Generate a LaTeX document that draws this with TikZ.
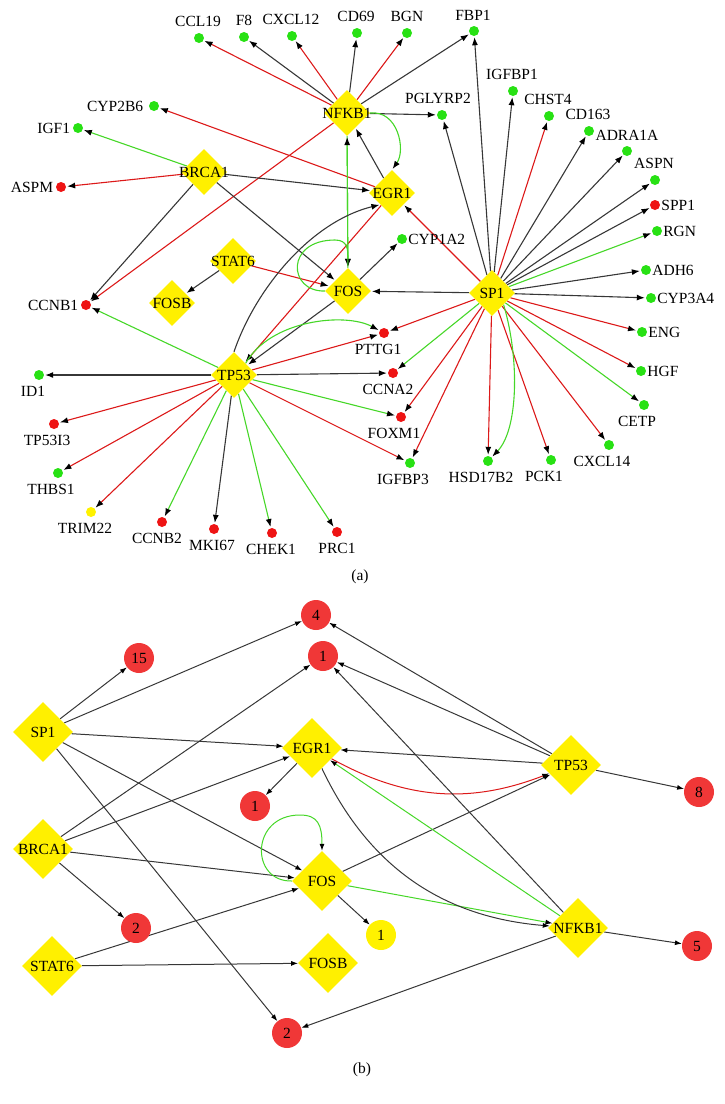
\documentclass[tikz,border=0pt]{standalone}
\usepackage{fontspec}
\setmainfont{Liberation Serif}
\usetikzlibrary{arrows.meta,shapes.geometric,positioning,backgrounds}

\definecolor{ygold}{RGB}{255,240,0}
\definecolor{dgreen}{RGB}{40,225,20}
\definecolor{dred}{RGB}{238,20,20}
\definecolor{cred}{RGB}{240,55,55}
\definecolor{eblack}{RGB}{55,55,55}
\definecolor{ered}{RGB}{220,25,25}
\definecolor{egreen}{RGB}{70,215,40}

\tikzset{
 lab/.style={font=\fontsize{15.5}{18}\selectfont, inner sep=0.5pt},
 dia/.style={diamond, fill=ygold, inner sep=0pt, minimum width=46pt, minimum height=46pt},
 diab/.style={dia, minimum width=60pt, minimum height=60pt},
 gd/.style={circle, fill=dgreen, inner sep=0pt, minimum size=10pt},
 rd/.style={gd, fill=dred},
 yd/.style={gd, fill=yellow},
 num/.style={circle, fill=cred, inner sep=0pt, minimum size=30pt, font=\fontsize{15.5}{18}\selectfont},
 numy/.style={num, fill=yellow},
 ea/.style={draw=eblack, line width=1.1pt, -{Latex[length=8pt,width=6pt,color=black]}, shorten >=1pt},
 ra/.style={ea, draw=ered},
 ga/.style={ea, draw=egreen},
 eb/.style={draw=eblack, line width=1pt, -{Latex[length=7pt,width=5pt,color=black]}},
 rb/.style={eb, draw=ered},
 gb/.style={eb, draw=egreen},
 ab/.style={lab, above=5pt of #1},
 bl/.style={lab, below=5pt of #1, xshift=-7pt},
 rt/.style={lab, right=0.5pt of #1},
 lt/.style={lab, left=2pt of #1},
}

\begin{document}
\begin{tikzpicture}[x=1pt,y=-1pt]
\useasboundingbox (0,0) rectangle (724,1104);

% ---------------- (a) ----------------
\node[dia, label={[lab]center:NFKB1}] (nfkb) at (347,113) {};
\node[dia, label={[lab]center:EGR1}] (egr) at (392,193) {};
\node[dia, label={[lab]center:BRCA1}] (brca) at (204,172) {};
\node[dia, label={[lab]center:STAT6}] (stat6) at (233,261) {};
\node[dia, label={[lab]center:FOS}] (fos) at (348,291) {};
\node[dia, label={[lab]center:FOSB}] (fosb) at (172,303) {};
\node[dia, label={[lab]center:TP53}] (tp53) at (234,375) {};
\node[dia, label={[lab]center:SP1}] (sp1) at (492,293) {};

\node[gd] (ccl19) at (199,38) {};   \node[ab=ccl19, xshift=-1pt] (ccl19l) {CCL19};
\node[gd] (f8) at (244,37) {};      \node[ab=f8] (f8l) {F8};
\node[gd] (cxcl12) at (292,36) {};  \node[ab=cxcl12, xshift=-1pt] (cxcl12l) {CXCL12};
\node[gd] (cd69) at (357,33) {};    \node[ab=cd69, xshift=-1pt] (cd69l) {CD69};
\node[gd] (bgn) at (407,33) {};     \node[ab=bgn] (bgnl) {BGN};
\node[gd] (fbp1) at (474,31) {};    \node[ab=fbp1, xshift=-1pt] (fbp1l) {FBP1};
\node[gd] (pglyrp2) at (442,115) {};\node[ab=pglyrp2, xshift=-4pt] (pglyrp2l) {PGLYRP2};
\node[gd] (igfbp1) at (513,91) {};  \node[ab=igfbp1, xshift=-1pt] (igfbp1l) {IGFBP1};
\node[gd] (chst4) at (549,116) {};  \node[ab=chst4, xshift=-1pt] (chst4l) {CHST4};
\node[gd] (cd163) at (589,131) {};  \node[ab=cd163, xshift=-1pt] (cd163l) {CD163};
\node[gd] (adra1a) at (627,151) {}; \node[ab=adra1a] (adra1al) {ADRA1A};
\node[gd] (aspn) at (655,180) {};   \node[ab=aspn, xshift=-1pt] (aspnl) {ASPN};
\node[rd] (spp1) at (655,205) {};   \node[rt=spp1] (spp1l) {SPP1};
\node[gd] (rgn) at (657,231) {};    \node[rt=rgn] (rgnl) {RGN};
\node[gd] (adh6) at (646,270) {};   \node[rt=adh6] (adh6l) {ADH6};
\node[gd] (cyp3a4) at (651,298) {}; \node[rt=cyp3a4] (cyp3a4l) {CYP3A4};
\node[gd] (eng) at (642,332) {};    \node[rt=eng] (engl) {ENG};
\node[gd] (hgf) at (641,371) {};    \node[rt=hgf] (hgfl) {HGF};
\node[gd] (cetp) at (644,405) {};   \node[bl=cetp] (cetpl) {CETP};
\node[gd] (cxcl14) at (609,445) {}; \node[bl=cxcl14] (cxcl14l) {CXCL14};
\node[gd] (pck1) at (551,460) {};   \node[bl=pck1] (pck1l) {PCK1};
\node[gd] (hsd) at (488,461) {};    \node[bl=hsd] (hsdl) {HSD17B2};
\node[gd] (igfbp3) at (410,463) {}; \node[bl=igfbp3] (igfbp3l) {IGFBP3};
\node[rd] (foxm1) at (401,417) {};  \node[bl=foxm1] (foxm1l) {FOXM1};
\node[rd] (ccna2) at (393,373) {};  \node[bl=ccna2, xshift=2pt] (ccna2l) {CCNA2};
\node[rd] (pttg1) at (384,333) {};  \node[bl=pttg1, xshift=1pt] (pttg1l) {PTTG1};
\node[gd] (cyp1a2) at (402,239) {}; \node[rt=cyp1a2] (cyp1a2l) {CYP1A2};
\node[gd] (cyp2b6) at (154,106) {}; \node[lt=cyp2b6, xshift=-3pt] (cyp2b6l) {CYP2B6};
\node[gd] (igf1) at (78,128) {};    \node[lt=igf1] (igf1l) {IGF1};
\node[rd] (aspm) at (61,187) {};    \node[lt=aspm] (aspml) {ASPM};
\node[rd] (ccnb1) at (86,305) {};   \node[lt=ccnb1] (ccnb1l) {CCNB1};
\node[gd] (id1) at (39,375) {};     \node[bl=id1, xshift=1pt] (id1l) {ID1};
\node[rd] (tp53i3) at (54,424) {};  \node[bl=tp53i3] (tp53i3l) {TP53I3};
\node[gd] (thbs1) at (58,473) {};   \node[bl=thbs1] (thbs1l) {THBS1};
\node[yd] (trim22) at (91,512) {};  \node[bl=trim22, xshift=1pt] (trim22l) {TRIM22};
\node[rd] (ccnb2) at (162,522) {};  \node[bl=ccnb2, xshift=2pt] (ccnb2l) {CCNB2};
\node[rd] (mki67) at (214,529) {};  \node[bl=mki67, xshift=5pt] (mki67l) {MKI67};
\node[rd] (chek1) at (272,533) {};  \node[bl=chek1, xshift=6pt] (chek1l) {CHEK1};
\node[rd] (prc1) at (337,532) {};   \node[bl=prc1, xshift=7pt] (prc1l) {PRC1};

\node[lab] (capa) at (360,577) {(a)};

\begin{scope}[on background layer]
% NFKB1
\draw[ra] (nfkb) -- (ccl19);
\draw[ea] (nfkb) -- (f8);
\draw[ra] (nfkb) -- (cxcl12);
\draw[ea] (nfkb) -- (cd69);
\draw[ra] (nfkb) -- (bgn);
\draw[ea] (nfkb) -- (fbp1);
\draw[ea] (nfkb) -- (pglyrp2);
\draw[ga] (nfkb.east) .. controls (398,110) and (406,150) .. (egr.north);
\draw[ra] (nfkb) -- (ccnb1);
\draw[ga] (nfkb) -- (fos);
% EGR1
\draw[ra] (egr) -- (cyp2b6);
\draw[ea] (egr) -- (nfkb);
\draw[ra] (egr) -- (tp53);
% BRCA1
\draw[ga] (brca) -- (igf1);
\draw[ra] (brca) -- (aspm);
\draw[ea] (brca) -- (egr);
\draw[ea] (brca) -- (fos);
\draw[ea] (brca) -- (ccnb1);
% STAT6
\draw[ea] (stat6) -- (fosb);
\draw[ra] (stat6) -- (fos);
% FOS
\draw[ga] (fos.west) .. controls (288,292) and (285,240) .. (335,240) .. controls (348,240) and (348,250) .. (fos.north);
\draw[ea] (fos) -- (cyp1a2);
\draw[ga] (fos) -- (nfkb);
\draw[ea] (fos) -- (tp53);
% TP53
\draw[ea] (tp53.north) .. controls (255,290) and (310,222) .. (egr.south west);
\draw[ga] (tp53.north east) .. controls (270,320) and (345,312) .. (pttg1);
\draw[ra] (tp53) -- (pttg1);
\draw[ea] (tp53) -- (ccna2);
\draw[ga] (tp53) -- (foxm1);
\draw[ra] (tp53) -- (igfbp3);
\draw[ga] (tp53) -- (ccnb1);
\draw[ea] (tp53) -- (id1);
\draw[ra] (tp53) -- (tp53i3);
\draw[ra] (tp53) -- (thbs1);
\draw[ra] (tp53) -- (trim22);
\draw[ga] (tp53) -- (ccnb2);
\draw[ea] (tp53) -- (mki67);
\draw[ga] (tp53) -- (chek1);
\draw[ga] (tp53) -- (prc1);
% SP1
\draw[ea] (sp1) -- (fos);
\draw[ra] (sp1) -- (egr);
\draw[ea] (sp1) -- (pglyrp2);
\draw[ea] (sp1) -- (fbp1);
\draw[ea] (sp1) -- (igfbp1);
\draw[ra] (sp1) -- (chst4);
\draw[ea] (sp1) -- (cd163);
\draw[ea] (sp1) -- (adra1a);
\draw[ea] (sp1) -- (aspn);
\draw[ea] (sp1) -- (spp1);
\draw[ga] (sp1) -- (rgn);
\draw[ea] (sp1) -- (adh6);
\draw[ea] (sp1) -- (cyp3a4);
\draw[ra] (sp1) -- (eng);
\draw[ra] (sp1) -- (hgf);
\draw[ga] (sp1) -- (cetp);
\draw[ra] (sp1) -- (cxcl14);
\draw[ra] (sp1) -- (pck1);
\draw[ra] (sp1) -- (hsd);
\draw[ga] (sp1.south east) .. controls (520,360) and (518,430) .. (hsd);
\draw[ra] (sp1) -- (igfbp3);
\draw[ra] (sp1) -- (foxm1);
\draw[ga] (sp1) -- (ccna2);
\draw[ra] (sp1) -- (pttg1);
\end{scope}

% ---------------- (b) ----------------
\node[diab, label={[lab]center:SP1}] (bsp1) at (43,732) {};
\node[diab, label={[lab]center:BRCA1}] (bbrca) at (43,849) {};
\node[diab, label={[lab]center:STAT6}] (bstat6) at (52,966) {};
\node[diab, label={[lab]center:EGR1}] (begr) at (312,748) {};
\node[diab, label={[lab]center:FOS}] (bfos) at (322,881) {};
\node[diab, label={[lab]center:FOSB}] (bfosb) at (328,963) {};
\node[diab, label={[lab]center:TP53}] (btp53) at (571,765) {};
\node[diab, label={[lab]center:NFKB1}] (bnfkb) at (578,928) {};

\node[num] (n4) at (316,615) {4};
\node[num] (n15) at (139,658) {15};
\node[num] (n1t) at (323,656) {1};
\node[num] (n1e) at (255,806) {1};
\node[num] (n2l) at (136,928) {2};
\node[numy] (n1y) at (381,935) {1};
\node[num] (n2b) at (287,1033) {2};
\node[num] (n8) at (699,792) {8};
\node[num] (n5) at (697,946) {5};

\node[lab] (capb) at (362,1070) {(b)};

\begin{scope}[on background layer]
\draw[eb] (bsp1) -- (n15);
\draw[eb] (bsp1) -- (n4);
\draw[eb] (bsp1) -- (begr);
\draw[eb] (bsp1) -- (bfos);
\draw[eb] (bsp1) -- (n2b);
\draw[eb] (bbrca) -- (n1t);
\draw[eb] (bbrca) -- (begr);
\draw[eb] (bbrca) -- (bfos);
\draw[eb] (bbrca) -- (n2l);
\draw[eb] (bstat6) -- (bfos);
\draw[eb] (bstat6) -- (bfosb);
\draw[gb] (bfos.west) .. controls (250,882) and (250,815) .. (300,815) .. controls (318,815) and (322,825) .. (bfos.north);
\draw[eb] (bfos) -- (btp53);
\draw[eb] (bfos) -- (n1y);
\draw[gb] (bfos) -- (bnfkb);
\draw[eb] (begr) -- (n1e);
\draw[rb] (begr) to[bend right=25] (btp53);
\draw[eb] (begr) to[bend right=30] (bnfkb);
\draw[eb] (btp53) -- (begr);
\draw[eb] (btp53) -- (n4);
\draw[eb] (btp53) -- (n1t);
\draw[eb] (btp53) -- (n8);
\draw[gb] (bnfkb) -- (begr);
\draw[eb] (bnfkb) -- (n1t);
\draw[eb] (bnfkb) -- (n5);
\draw[eb] (bnfkb) -- (n2b);
\end{scope}
\end{tikzpicture}
\end{document}
